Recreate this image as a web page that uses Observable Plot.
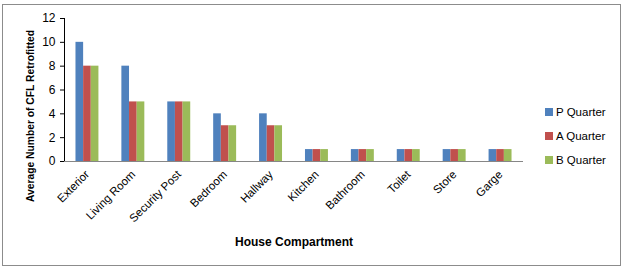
<!DOCTYPE html>
<html><head><meta charset="utf-8">
<script src="https://cdn.jsdelivr.net/npm/d3@7"></script>
<script src="https://cdn.jsdelivr.net/npm/@observablehq/plot@0.6"></script>
<style>
body{margin:0;background:#fff;font-family:"Liberation Sans",Arial,sans-serif;}
#wrap{position:relative;width:627px;height:271px;}
#border{position:absolute;left:2px;top:4px;width:619px;height:262px;border:1px solid #8c8c8c;box-sizing:border-box;}
#legend{position:absolute;left:545px;top:100px;font-size:11.5px;color:#000;}
.li{display:flex;align-items:center;height:24px;}
.sw{width:8px;height:8px;margin-right:3px;}
</style></head><body>
<div id="wrap"><div id="border"></div><div id="chart"></div><div id="legend"></div></div>
<script>
const categories = ["Exterior","Living Room","Security Post","Bedroom","Hallway","Kitchen","Bathroom","Toilet","Store","Garge"];
const seriesNames = ["P Quarter","A Quarter","B Quarter"];
const pQuarter = [10,8,5,4,4,1,1,1,1,1];
const aQuarter = [8,5,5,3,3,1,1,1,1,1];
const bQuarter = [8,5,5,3,3,1,1,1,1,1];
const colors = ["#4F81BD","#C0504D","#9BBB59"];
const yTicks = [0,2,4,6,8,10,12];

const W = 627, H = 271, ml = 64, mr = 104, mt = 18, mb = 110;
const seriesVals = [pQuarter, aQuarter, bQuarter];
const data = categories.map((c,i)=>({cat:c, v:seriesVals.map(s=>s[i])}));
const step = (W-ml-mr)/categories.length;
const bw = step*0.5;
const marks = seriesVals.map((s,k)=>Plot.barY(data,{x:"cat", y:d=>d.v[k], fill:colors[k],
  insetLeft:k*bw/3, insetRight:(2-k)*bw/3}));
const plot = Plot.plot({
  width:W, height:H, marginLeft:ml, marginRight:mr, marginTop:mt, marginBottom:mb,
  style:{fontFamily:"Liberation Sans, Arial, sans-serif", fontSize:"11.5px", background:"transparent", color:"#000"},
  x:{domain:categories, paddingInner:0.5, paddingOuter:0.25, round:false, label:null, tickRotate:-45, tickSize:0, tickPadding:11},
  y:{domain:[0,12], ticks:yTicks, label:null, tickSize:4, tickPadding:5, line:true},
  marks:[
    ...marks,
    Plot.ruleY([0],{stroke:"#868686"}),
    Plot.text(["House Compartment"],{frameAnchor:"bottom", dy:84, fontWeight:"bold", fontSize:12}),
    Plot.text(["Average Number of CFL Retrofitted"],{frameAnchor:"left", textAnchor:"middle", dx:-34, dy:26, rotate:-90, fontWeight:"bold", fontSize:10.3})
  ]
});
plot.querySelectorAll('[aria-label="y-axis tick label"]').forEach(n=>n.setAttribute("font-size","12"));
document.getElementById("chart").appendChild(plot);
const lg = document.getElementById("legend");
seriesNames.forEach((n,k)=>{
  const d=document.createElement("div"); d.className="li";
  d.innerHTML=`<div class="sw" style="background:${colors[k]}"></div><span>${n}</span>`;
  lg.appendChild(d);
});
</script></body></html>
